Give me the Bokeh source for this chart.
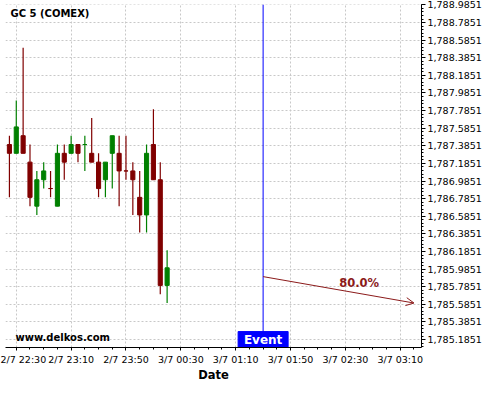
import numpy as np
import pandas as pd
from bokeh.plotting import figure
from bokeh.models import (Range1d, FixedTicker, NumeralTickFormatter, Span, Label,
                          Arrow, OpenHead, ColumnDataSource)
from bokeh.embed import file_html
from bokeh.resources import INLINE

# ---------------- data ----------------
times = ["2021-07-02 22:25", "2021-07-02 22:30", "2021-07-02 22:35", "2021-07-02 22:40",
         "2021-07-02 22:45", "2021-07-02 22:50", "2021-07-02 22:55", "2021-07-02 23:00",
         "2021-07-02 23:05", "2021-07-02 23:10", "2021-07-02 23:15", "2021-07-02 23:20",
         "2021-07-02 23:25", "2021-07-02 23:30", "2021-07-02 23:35", "2021-07-02 23:40",
         "2021-07-02 23:45", "2021-07-02 23:50", "2021-07-02 23:55", "2021-07-03 00:00",
         "2021-07-03 00:05", "2021-07-03 00:10", "2021-07-03 00:15", "2021-07-03 00:20"]
opens = [1787.4, 1787.3, 1787.5, 1787.2, 1786.7, 1787.0, 1786.9, 1786.7,
         1787.3, 1787.3, 1787.4, 1787.4, 1787.3, 1787.2, 1787.0, 1787.3,
         1787.3, 1787.1, 1787.1, 1786.8, 1786.6, 1787.4, 1787.0, 1785.8]
highs = [1787.5, 1787.9, 1788.5, 1787.4, 1787.1, 1787.2, 1787.1, 1787.4,
         1787.4, 1787.5, 1787.4, 1787.5, 1787.7, 1787.3, 1787.2, 1787.5,
         1787.5, 1787.5, 1787.2, 1787.1, 1787.4, 1787.8, 1787.2, 1786.2]
lows = [1786.8, 1787.3, 1787.3, 1786.7, 1786.6, 1786.9, 1786.8, 1786.7,
        1787.0, 1787.3, 1787.2, 1787.1, 1787.2, 1786.8, 1786.8, 1786.9,
        1786.7, 1787.0, 1786.6, 1786.4, 1786.4, 1787.0, 1785.7, 1785.6]
closes = [1787.3, 1787.6, 1787.3, 1786.8, 1787.0, 1787.1, 1786.9, 1787.3,
          1787.2, 1787.4, 1787.3, 1787.4, 1787.2, 1786.9, 1787.2, 1787.5,
          1787.1, 1787.1, 1787.0, 1786.6, 1787.3, 1787.0, 1785.8, 1786.0]
# colour of unchanged (doji) candles, by index
doji_bull = {11: True, 6: False, 17: False}

x_tick_times = ["2021-07-02 22:30", "2021-07-02 23:10", "2021-07-02 23:50", "2021-07-03 00:30",
                "2021-07-03 01:10", "2021-07-03 01:50", "2021-07-03 02:30", "2021-07-03 03:10"]
x_tick_labels = ["2/7 22:30", "2/7 23:10", "2/7 23:50", "3/7 00:30",
                 "3/7 01:10", "3/7 01:50", "3/7 02:30", "3/7 03:10"]
y_tick_values = [1785.1851, 1785.3851, 1785.5851, 1785.7851, 1785.9851, 1786.1851,
                 1786.3851, 1786.5851, 1786.7851, 1786.9851, 1787.1851, 1787.3851,
                 1787.5851, 1787.7851, 1787.9851, 1788.1851, 1788.3851, 1788.5851,
                 1788.7851, 1788.9851]

title_text = "GC 5 (COMEX)"
watermark = "www.delkos.com"
x_label = "Date"
event_time = "2021-07-03 01:30"
event_text = "Event"
forecast_start_time = "2021-07-03 01:30"
forecast_start_price = 1785.9
forecast_end_time = "2021-07-03 03:20"
forecast_end_price = 1785.6
forecast_text = "80.0%"
forecast_text_time = "2021-07-03 02:40"

# ---------------- helpers ----------------
T0 = pd.Timestamp("2021-07-02 22:30")


def minutes(t):
    return (pd.Timestamp(t) - T0).total_seconds() / 60.0


RED = "#800000"
GREEN = "#008000"
AR = "#8b1a1a"
FONT = "DejaVu Sans"

W, H = 484, 384
BL, BT, BR, BB = 5, 4, 62, 34
FRAME_H = H - BT - BB

xs = [minutes(t) for t in times]
colors = []
for i, (o, c) in enumerate(zip(opens, closes)):
    if c > o:
        colors.append(GREEN)
    elif c < o:
        colors.append(RED)
    else:
        colors.append(GREEN if doji_bull.get(i, False) else RED)

src = ColumnDataSource(dict(
    x=xs, high=highs, low=lows,
    top=[max(o, c) for o, c in zip(opens, closes)],
    bottom=[min(o, c) for o, c in zip(opens, closes)],
    color=colors))

p = figure(width=W, height=H,
           x_range=Range1d(-7.86, 295.5), y_range=Range1d(1785.095, 1788.99),
           y_axis_location="right", output_backend="svg", toolbar_location=None,
           min_border_left=BL, min_border_top=BT, min_border_right=BR, min_border_bottom=BB)
p.outline_line_color = None
p.background_fill_color = "white"
p.border_fill_color = "white"

# grid
p.grid.grid_line_color = "#c8c8c8"
p.grid.grid_line_dash = "2 2"
p.grid.grid_line_width = 1

# x axis
xticks = [minutes(t) for t in x_tick_times]
p.xaxis.ticker = FixedTicker(ticks=xticks,
                             minor_ticks=list(np.arange(xticks[0] - 40, xticks[-1] + 41, 10)))
p.xaxis.major_label_overrides = {v: lab for v, lab in zip(xticks, x_tick_labels)}
p.xaxis.major_tick_out = 3
p.xaxis.major_tick_in = 0
p.xaxis.minor_tick_out = 2
p.xaxis.minor_tick_in = 0
p.xaxis.major_label_standoff = 3
p.xaxis.major_label_text_font = FONT
p.xaxis.major_label_text_font_size = "9.5px"
p.xaxis.major_label_text_color = "black"
p.xaxis.axis_line_color = "black"
p.xaxis.major_tick_line_color = "black"
p.xaxis.minor_tick_line_color = "black"
p.xaxis.axis_label = x_label
p.xaxis.axis_label_standoff = 0
p.xaxis.axis_label_text_font = FONT
p.xaxis.axis_label_text_font_style = "bold"
p.xaxis.axis_label_text_font_size = "11.5px"
p.xaxis.axis_label_text_color = "black"

# y axis (right)
p.yaxis.ticker = FixedTicker(ticks=y_tick_values,
                             minor_ticks=[round(y_tick_values[0] - 0.2 + 0.04 * k, 4) for k in range(110)])
p.yaxis.formatter = NumeralTickFormatter(format="0,0.0000")
p.yaxis.major_tick_out = 4
p.yaxis.major_tick_in = 0
p.yaxis.minor_tick_out = 2
p.yaxis.minor_tick_in = 0
p.yaxis.major_label_standoff = 2
p.yaxis.major_label_text_font = FONT
p.yaxis.major_label_text_font_size = "9.5px"
p.yaxis.major_label_text_color = "black"
p.yaxis.axis_line_color = "black"

# event line
ev = minutes(event_time)
p.add_layout(Span(location=ev, dimension="height", line_color="blue", line_width=1, level="underlay"))

# candles
p.segment(x0="x", y0="low", x1="x", y1="high", line_color="color", line_width=1.2, source=src)
p.vbar(x="x", width=3.0, top="top", bottom="bottom", fill_color="color", line_color="color",
       line_width=1, source=src)

# event box + text
p.extra_y_ranges = {"px": Range1d(0, FRAME_H)}
p.rect(x=[ev], y=[8], width=50, height=16, width_units="screen", height_units="screen",
       fill_color="blue", line_color="blue", y_range_name="px")
p.add_layout(Label(x=ev, y=8, y_units="screen", text=event_text, text_align="center",
                   text_baseline="middle", text_color="white", text_font=FONT,
                   text_font_style="bold", text_font_size="12px"))

# forecast arrow
xs0, xs1 = minutes(forecast_start_time), minutes(forecast_end_time)
p.add_layout(Arrow(end=OpenHead(size=8, line_color=AR, line_width=1),
                   x_start=xs0, y_start=forecast_start_price,
                   x_end=xs1, y_end=forecast_end_price,
                   line_color=AR, line_width=1))
xt = minutes(forecast_text_time)
yt = forecast_start_price + (xt - xs0) / (xs1 - xs0) * (forecast_end_price - forecast_start_price)
p.add_layout(Label(x=xt, y=yt, y_offset=10, text=forecast_text, text_align="center",
                   text_baseline="middle", text_color=AR, text_font=FONT,
                   text_font_style="bold", text_font_size="11.5px"))

# title, watermark
p.add_layout(Label(x=5, y=FRAME_H - 11.5, x_units="screen", y_units="screen", text=title_text,
                   text_baseline="middle", text_font=FONT, text_font_style="bold",
                   text_font_size="10px", text_color="black"))
p.add_layout(Label(x=10, y=10, x_units="screen", y_units="screen", text=watermark,
                   text_baseline="middle", text_font=FONT, text_font_style="bold",
                   text_font_size="10px", text_color="black"))

open("out.html", "w").write(file_html(p, INLINE))
